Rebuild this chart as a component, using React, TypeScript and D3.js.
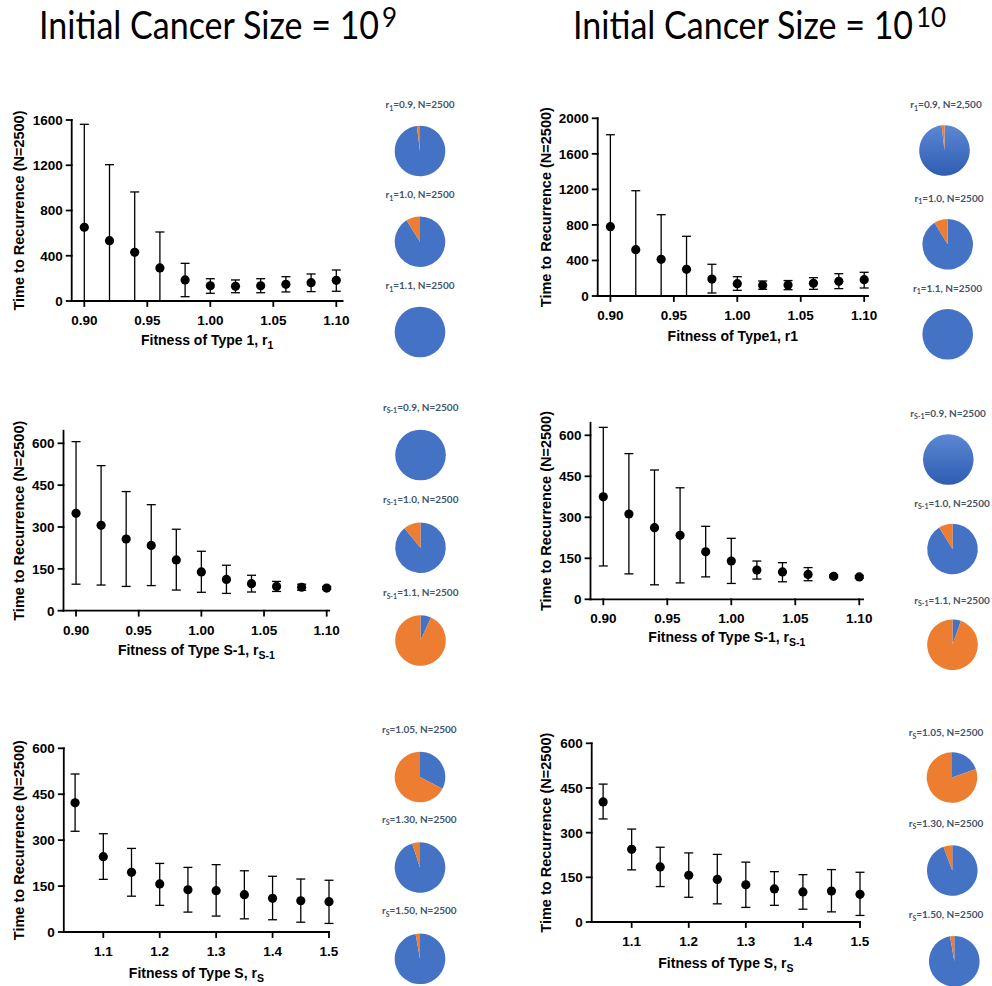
import React, { useLayoutEffect, useRef, useState } from "react";
import * as d3 from "d3";

const BLUE = "#4472C4";
const ORANGE = "#ED7D31";
const PIE_TEXT = "#44546A";
const AXIS_FONT = "'Liberation Sans', Arial, sans-serif";

// ---- x positions ----
const fitnessR = [0.9, 0.92, 0.94, 0.96, 0.98, 1.0, 1.02, 1.04, 1.06, 1.08, 1.1];
const fitnessS = [1.05, 1.1, 1.15, 1.2, 1.25, 1.3, 1.35, 1.4, 1.45, 1.5];

// ---- tick values ----
const xTicksR = [0.9, 0.95, 1.0, 1.05, 1.1];
const xTicksS = [1.1, 1.2, 1.3, 1.4, 1.5];
const yTicks1600 = [0, 400, 800, 1200, 1600];
const yTicks2000 = [0, 400, 800, 1200, 1600, 2000];
const yTicks600 = [0, 150, 300, 450, 600];

// ---- time to recurrence: mean and error-bar ends ----
// Type 1, initial size 1e9
const type1Mean9 = [651, 533, 430, 292, 186, 135, 130, 135, 147, 162, 183];
const type1Upper9 = [1562, 1205, 964, 610, 333, 197, 186, 197, 215, 239, 274];
const type1Lower9 = [0, 0, 0, 0, 38, 68, 73, 73, 80, 83, 86];
// Type 1, initial size 1e10
const type1Mean10 = [780, 521, 413, 300, 191, 139, 120, 124, 143, 165, 184];
const type1Upper10 = [1815, 1185, 915, 672, 357, 217, 169, 174, 206, 251, 267];
const type1Lower10 = [0, 0, 0, 0, 34, 64, 75, 71, 75, 83, 90];
// Type S-1, initial size 1e9
const typeSm1Mean9 = [349, 306, 257, 234, 182, 139, 112, 97, 87, 84, 81];
const typeSm1Upper9 = [606, 520, 427, 380, 292, 213, 163, 127, 105, 95, 87];
const typeSm1Lower9 = [95, 92, 87, 90, 74, 66, 62, 67, 69, 73, 76];
// Type S-1, initial size 1e10
const typeSm1Mean10 = [375, 312, 262, 234, 174, 140, 107, 100, 91, 84, 82];
const typeSm1Upper10 = [629, 533, 473, 408, 267, 223, 140, 134, 116, 89, 87];
const typeSm1Lower10 = [122, 93, 53, 60, 82, 58, 74, 64, 68, 79, 77];
// Type S, initial size 1e9
const typeSMean9 = [422, 246, 195, 157, 138, 135, 122, 110, 102, 99];
const typeSUpper9 = [516, 321, 273, 224, 211, 220, 200, 182, 173, 169];
const typeSLower9 = [329, 172, 117, 87, 65, 52, 43, 40, 32, 28];
// Type S, initial size 1e10
const typeSMean10 = [403, 244, 185, 157, 143, 125, 111, 101, 104, 93];
const typeSUpper10 = [463, 312, 251, 232, 227, 201, 169, 159, 176, 167];
const typeSLower10 = [346, 175, 119, 83, 61, 49, 56, 43, 34, 22];

// ---- pie charts: parameter values, run counts, orange share ----
const pieValuesR = ["0.9", "1.0", "1.1"];
const pieValuesS = ["1.05", "1.30", "1.50"];
const pieCounts = ["2500", "2500", "2500"];
const pieCountsType1Size10 = ["2,500", "2500", "2500"];
const orangeType1Size9 = [0.02, 0.09, 0];
const orangeType1Size10 = [0.018, 0.087, 0];
const orangeTypeSm1Size9 = [0, 0.11, 0.932];
const orangeTypeSm1Size10 = [0, 0.088, 0.946];
const orangeTypeSSize9 = [0.673, 0.05, 0.028];
const orangeTypeSSize10 = [0.804, 0.057, 0.027];

// ---- column headings ----
const headingBase = "Initial Cancer Size = 10";
const headingExponents = ["9", "10"];

type PieLayout = { cx: number; cy: number; tx: number; ty: number; gradient?: boolean };

type PanelCfg = {
  id: string;
  xDomain: [number, number];
  xRange: [number, number];
  yMax: number;
  yRange: [number, number];
  axisTop: number;
  xTicks: number[];
  xFmt: (v: number) => string;
  yTicks: number[];
  xs: number[];
  mean: number[];
  upper: number[];
  lower: number[];
  yLabelOffset: number;
  xLabelGap: number;
  xLabel: string;
  xLabelSub: string;
  pieSub: string;
  pieValues: string[];
  pieCounts: string[];
  pieOrange: number[];
  pies: PieLayout[];
};

const fmt2 = d3.format(".2f");
const fmt1 = d3.format(".1f");

const panels: PanelCfg[] = [
  {
    id: "a",
    xDomain: [0.89, 1.105], xRange: [71.7, 342.6],
    yMax: 1600, yRange: [301, 120], axisTop: 1600,
    xTicks: xTicksR, xFmt: fmt2, yTicks: yTicks1600,
    xs: fitnessR, mean: type1Mean9, upper: type1Upper9, lower: type1Lower9,
    yLabelOffset: 53, xLabelGap: 44,
    xLabel: "Fitness of Type 1, r", xLabelSub: "1",
    pieSub: "1", pieValues: pieValuesR, pieCounts: pieCounts, pieOrange: orangeType1Size9,
    pies: [
      { cx: 420, cy: 151, tx: 420, ty: 104.7 },
      { cx: 420, cy: 241.7, tx: 420, ty: 194.7 },
      { cx: 420, cy: 332, tx: 420, ty: 285.7 },
    ],
  },
  {
    id: "b",
    xDomain: [0.89, 1.103], xRange: [597.7, 868],
    yMax: 2000, yRange: [296, 118.3], axisTop: 2000,
    xTicks: xTicksR, xFmt: fmt2, yTicks: yTicks2000,
    xs: fitnessR, mean: type1Mean10, upper: type1Upper10, lower: type1Lower10,
    yLabelOffset: 52, xLabelGap: 45,
    xLabel: "Fitness of Type1, r1", xLabelSub: "",
    pieSub: "1", pieValues: pieValuesR, pieCounts: pieCountsType1Size10, pieOrange: orangeType1Size10,
    pies: [
      { cx: 944.5, cy: 150.5, tx: 946, ty: 104.7, gradient: true },
      { cx: 947.7, cy: 244.3, tx: 949, ty: 198 },
      { cx: 947.7, cy: 334.3, tx: 947.5, ty: 288 },
    ],
  },
  {
    id: "c",
    xDomain: [0.89, 1.102], xRange: [63.5, 329.2],
    yMax: 600, yRange: [610.7, 443.3], axisTop: 645,
    xTicks: xTicksR, xFmt: fmt2, yTicks: yTicks600,
    xs: fitnessR, mean: typeSm1Mean9, upper: typeSm1Upper9, lower: typeSm1Lower9,
    yLabelOffset: 44.5, xLabelGap: 44,
    xLabel: "Fitness of Type S-1, r", xLabelSub: "S-1",
    pieSub: "S-1", pieValues: pieValuesR, pieCounts: pieCounts, pieOrange: orangeTypeSm1Size9,
    pies: [
      { cx: 420.5, cy: 455, tx: 420.7, ty: 407.3 },
      { cx: 420.5, cy: 547.7, tx: 420.7, ty: 499 },
      { cx: 420.5, cy: 640.5, tx: 420.7, ty: 592.7 },
    ],
  },
  {
    id: "d",
    xDomain: [0.89, 1.103], xRange: [590.5, 863.1],
    yMax: 600, yRange: [599.3, 435.3], axisTop: 646,
    xTicks: xTicksR, xFmt: fmt2, yTicks: yTicks600,
    xs: fitnessR, mean: typeSm1Mean10, upper: typeSm1Upper10, lower: typeSm1Lower10,
    yLabelOffset: 45, xLabelGap: 42.5,
    xLabel: "Fitness of Type S-1, r", xLabelSub: "S-1",
    pieSub: "S-1", pieValues: pieValuesR, pieCounts: pieCounts, pieOrange: orangeTypeSm1Size10,
    pies: [
      { cx: 948.3, cy: 459.5, tx: 948, ty: 413.3, gradient: true },
      { cx: 952.5, cy: 549, tx: 952, ty: 503.3 },
      { cx: 952.5, cy: 644.7, tx: 952, ty: 600 },
    ],
  },
  {
    id: "e",
    xDomain: [1.03, 1.5], xRange: [63.8, 329],
    yMax: 600, yRange: [932, 748.3], axisTop: 600,
    xTicks: xTicksS, xFmt: fmt1, yTicks: yTicks600,
    xs: fitnessS, mean: typeSMean9, upper: typeSUpper9, lower: typeSLower9,
    yLabelOffset: 45, xLabelGap: 46,
    xLabel: "Fitness of Type S, r", xLabelSub: "S",
    pieSub: "S", pieValues: pieValuesS, pieCounts: pieCounts, pieOrange: orangeTypeSSize9,
    pies: [
      { cx: 420, cy: 777, tx: 419.3, ty: 729.3 },
      { cx: 420, cy: 867.5, tx: 419.3, ty: 819.3 },
      { cx: 420, cy: 958.8, tx: 419.3, ty: 910.7 },
    ],
  },
  {
    id: "f",
    xDomain: [1.03, 1.5], xRange: [591.7, 860],
    yMax: 600, yRange: [922, 743.3], axisTop: 600,
    xTicks: xTicksS, xFmt: fmt1, yTicks: yTicks600,
    xs: fitnessS, mean: typeSMean10, upper: typeSUpper10, lower: typeSLower10,
    yLabelOffset: 45.5, xLabelGap: 46,
    xLabel: "Fitness of Type S, r", xLabelSub: "S",
    pieSub: "S", pieValues: pieValuesS, pieCounts: pieCounts, pieOrange: orangeTypeSSize10,
    pies: [
      { cx: 952, cy: 777.5, tx: 946, ty: 732.7 },
      { cx: 952.3, cy: 870.5, tx: 946, ty: 823.3 },
      { cx: 954.3, cy: 961.3, tx: 946, ty: 914.7 },
    ],
  },
];

const PIE_R = 25.3;
const CAP = 4.5;

function Panel({ cfg }: { cfg: PanelCfg }) {
  const x = d3.scaleLinear().domain(cfg.xDomain).range(cfg.xRange);
  const y = d3.scaleLinear().domain([0, cfg.yMax]).range(cfg.yRange);
  const x0 = cfg.xRange[0];
  const y0 = y(0);
  const yTop = y(cfg.axisTop);
  const pie = d3.pie<number>().sort(null).value((d) => d);
  const arc = d3.arc<d3.PieArcDatum<number>>().innerRadius(0).outerRadius(PIE_R);

  return (
    <g>
      {/* error bars */}
      {cfg.xs.map((xv, i) => {
        const px = x(xv);
        const yu = y(cfg.upper[i]);
        const yl = y(Math.max(0, cfg.lower[i]));
        return (
          <g key={"e" + i} stroke="#000" strokeWidth={1.3}>
            <line x1={px} x2={px} y1={yu} y2={yl} />
            <line x1={px - CAP} x2={px + CAP} y1={yu} y2={yu} />
            {cfg.lower[i] > 0 && <line x1={px - CAP} x2={px + CAP} y1={yl} y2={yl} />}
          </g>
        );
      })}
      {/* means */}
      {cfg.xs.map((xv, i) => (
        <circle key={"m" + i} cx={x(xv)} cy={y(cfg.mean[i])} r={4.6} fill="#000" />
      ))}
      {/* axes */}
      <g stroke="#000" strokeWidth={1.8} strokeLinecap="square">
        <line x1={x0} x2={x0} y1={y0} y2={yTop} />
        <line x1={x0} x2={cfg.xRange[1]} y1={y0} y2={y0} />
        {cfg.yTicks.map((t) => (
          <line key={"yt" + t} x1={x0 - 5} x2={x0} y1={y(t)} y2={y(t)} />
        ))}
        {cfg.xTicks.map((t) => (
          <line key={"xt" + t} x1={x(t)} x2={x(t)} y1={y0} y2={y0 + 5} />
        ))}
      </g>
      <g fontFamily={AXIS_FONT} fontWeight="bold" fontSize={13.5} fill="#000">
        {cfg.yTicks.map((t) => (
          <text key={"yl" + t} x={x0 - 9} y={y(t)} dy="0.36em" textAnchor="end">
            {t}
          </text>
        ))}
        {cfg.xTicks.map((t) => (
          <text key={"xl" + t} x={x(t)} y={y0 + 24} textAnchor="middle">
            {cfg.xFmt(t)}
          </text>
        ))}
      </g>
      {/* axis titles */}
      <text
        fontFamily={AXIS_FONT}
        fontWeight="bold"
        fontSize={14.5}
        textAnchor="middle"
        dominantBaseline="central"
        transform={`translate(${x0 - cfg.yLabelOffset},${(y0 + yTop) / 2}) rotate(-90)`}
      >
        Time to Recurrence (N=2500)
      </text>
      <text
        fontFamily={AXIS_FONT}
        fontWeight="bold"
        fontSize={14}
        textAnchor="middle"
        x={(cfg.xRange[0] + cfg.xRange[1]) / 2}
        y={y0 + cfg.xLabelGap}
      >
        {cfg.xLabel}
        {cfg.xLabelSub && (
          <tspan fontSize={10.5} dy={4}>
            {cfg.xLabelSub}
          </tspan>
        )}
      </text>
      {/* outcome pies */}
      {cfg.pies.map((p, i) => {
        const o = cfg.pieOrange[i];
        const arcs = pie([1 - o, o]);
        const gid = `grad-${cfg.id}-${i}`;
        return (
          <g key={"p" + i}>
            {p.gradient && (
              <defs>
                <linearGradient id={gid} x1="0" y1="0" x2="0" y2="1">
                  <stop offset="0" stopColor="#5B87D3" />
                  <stop offset="1" stopColor="#2F5DB2" />
                </linearGradient>
              </defs>
            )}
            <text
              x={p.tx}
              y={p.ty}
              dy="0.35em"
              textAnchor="middle"
              fontFamily="Lato, 'Open Sans', sans-serif"
              fontWeight="bold"
              fontSize={10}
              fill={PIE_TEXT}
            >
              r
              <tspan fontSize={7} dy={2.5}>
                {cfg.pieSub}
              </tspan>
              <tspan dy={-2.5}>{`=${cfg.pieValues[i]}, N=${cfg.pieCounts[i]}`}</tspan>
            </text>
            <g transform={`translate(${p.cx},${p.cy})`}>
              {arcs.map((a, k) =>
                a.endAngle - a.startAngle > 0 ? (
                  <path
                    key={k}
                    d={arc(a) || ""}
                    fill={k === 0 ? (p.gradient ? `url(#${gid})` : BLUE) : ORANGE}
                  />
                ) : null
              )}
            </g>
          </g>
        );
      })}
    </g>
  );
}

// Column heading: base text fitted to a set width, exponent raised after it.
function Heading({ x, exp }: { x: number; exp: string }) {
  const ref = useRef<SVGTextElement>(null);
  const [sx, setSx] = useState(0.9);
  const width = 340;
  useLayoutEffect(() => {
    if (ref.current) {
      const w = ref.current.getComputedTextLength();
      if (w > 0) setSx(width / w);
    }
  }, []);
  return (
    <g fontFamily="Lato, 'Open Sans', sans-serif" fill="#000">
      <text ref={ref} transform={`translate(${x},39) scale(${sx},1)`} fontSize={38}>
        {headingBase}
      </text>
      <text x={x + width + 3} y={27} fontSize={26}>
        {exp}
      </text>
    </g>
  );
}

const headingX = [39, 573];

export default function App() {
  return (
    <svg
      width={992}
      height={986}
      viewBox="0 0 992 986"
      style={{ position: "absolute", left: 0, top: 0, background: "#fff" }}
    >
      <rect width={992} height={986} fill="#fff" />
      {headingExponents.map((e, i) => (
        <Heading key={e} x={headingX[i]} exp={e} />
      ))}
      {panels.map((p) => (
        <Panel key={p.id} cfg={p} />
      ))}
    </svg>
  );
}
